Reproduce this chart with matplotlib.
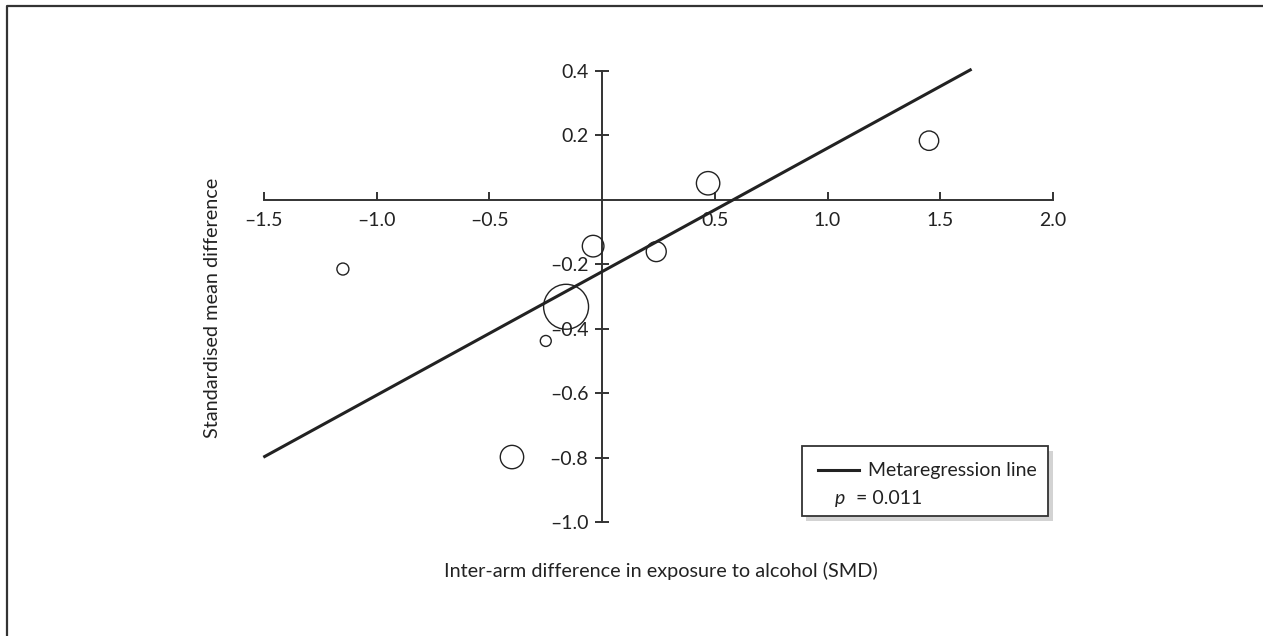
import matplotlib
matplotlib.use("Agg")
import matplotlib.pyplot as plt
from matplotlib.lines import Line2D
from matplotlib.patches import Rectangle
import numpy as np

# study-level points: inter-arm exposure difference vs outcome SMD
exposure_smd = [-1.15, -0.40, -0.25, -0.16, -0.04, 0.24, 0.47, 1.45]
outcome_smd = [-0.215, -0.798, -0.438, -0.332, -0.144, -0.161, 0.051, 0.183]
study_weight = [3.6, 13.7, 3.0, 50.6, 11.7, 10.0, 13.7, 9.4]

# metaregression line
reg_intercept = -0.223
reg_slope = 0.383
reg_x_range = [-1.497, 1.633]

x_ticks = [-1.5, -1.0, -0.5, 0.5, 1.0, 1.5, 2.0]
y_ticks = [0.4, 0.2, -0.2, -0.4, -0.6, -0.8, -1.0]

plt.rcParams["font.family"] = ["Lato", "DejaVu Sans"]
ink = "#222222"
fs = 14

fig = plt.figure(figsize=(12.63, 6.36), dpi=100)
ax = fig.add_axes([264 / 1263, 1 - 522.2 / 636, 789 / 1263, 451.5 / 636])
ax.set_xlim(-1.5, 2.0)
ax.set_ylim(-1.0, 0.4)

for side in ["top", "right"]:
    ax.spines[side].set_visible(False)
ax.spines["left"].set_position(("data", 0))
ax.spines["bottom"].set_position(("data", 0))
for side in ["left", "bottom"]:
    ax.spines[side].set_linewidth(1.4)
    ax.spines[side].set_color("#333333")

ax.set_xticks(x_ticks)
ax.set_xticklabels([f"{v:.1f}".replace("-", "\u2013") for v in x_ticks])
ax.set_yticks(y_ticks)
ax.set_yticklabels([f"{v:.1f}".replace("-", "\u2013") for v in y_ticks])
ax.tick_params(axis="x", direction="in", length=6, width=1.4, color="#333333",
               pad=9, labelsize=fs, labelcolor=ink)
ax.tick_params(axis="y", direction="inout", length=10, width=1.4, color="#333333",
               pad=5, labelsize=fs, labelcolor=ink)

# regression line
xs = np.array(reg_x_range)
ax.plot(xs, reg_intercept + reg_slope * xs, color=ink, lw=2.2, clip_on=False, zorder=3)

# studies as open circles, area ~ weight
sizes = [w * 20.7 for w in study_weight]
ax.scatter(exposure_smd, outcome_smd, s=sizes, facecolors="none", edgecolors=ink,
           linewidths=1.0, clip_on=False, zorder=4)

# legend box with shadow
ax.add_patch(Rectangle((0.6875, 0.0033), 0.3122, 0.1551, transform=ax.transAxes,
                       facecolor="#d3d3d3", edgecolor="none", clip_on=False, zorder=5))
ax.add_patch(Rectangle((0.6815, 0.0137), 0.3122, 0.1551, transform=ax.transAxes,
                       facecolor="white", edgecolor="#333333", lw=1.3, clip_on=False, zorder=6))
ax.add_line(Line2D([0.7022, 0.7541], [0.1156, 0.1156], transform=ax.transAxes,
                   color=ink, lw=2.2, clip_on=False, zorder=7))
ax.text(0.7655, 0.1156, "Metaregression line", transform=ax.transAxes, fontsize=fs,
        color=ink, va="center", ha="left", zorder=7)
ax.text(0.7237, 0.0514, "p", transform=ax.transAxes, fontsize=fs, style="italic",
        color=ink, va="center", ha="left", zorder=7)
ax.text(0.7500, 0.0514, "= 0.011", transform=ax.transAxes, fontsize=fs,
        color=ink, va="center", ha="left", zorder=7)

fig.text(212 / 1263, 1 - 308 / 636, "Standardised mean difference", rotation=90,
         fontsize=14.3, color=ink, ha="center", va="center")
fig.text(661 / 1263, 1 - 571 / 636, "Inter-arm difference in exposure to alcohol (SMD)",
         fontsize=14.3, color=ink, ha="center", va="center")

# outer frame (left and top edges)
fig.add_artist(Line2D([7.3 / 1263, 7.3 / 1263, 1.0], [0.0, 1 - 6 / 636, 1 - 6 / 636],
                      transform=fig.transFigure, color="#333333", lw=1.6))

fig.savefig("out.png", dpi=100)
